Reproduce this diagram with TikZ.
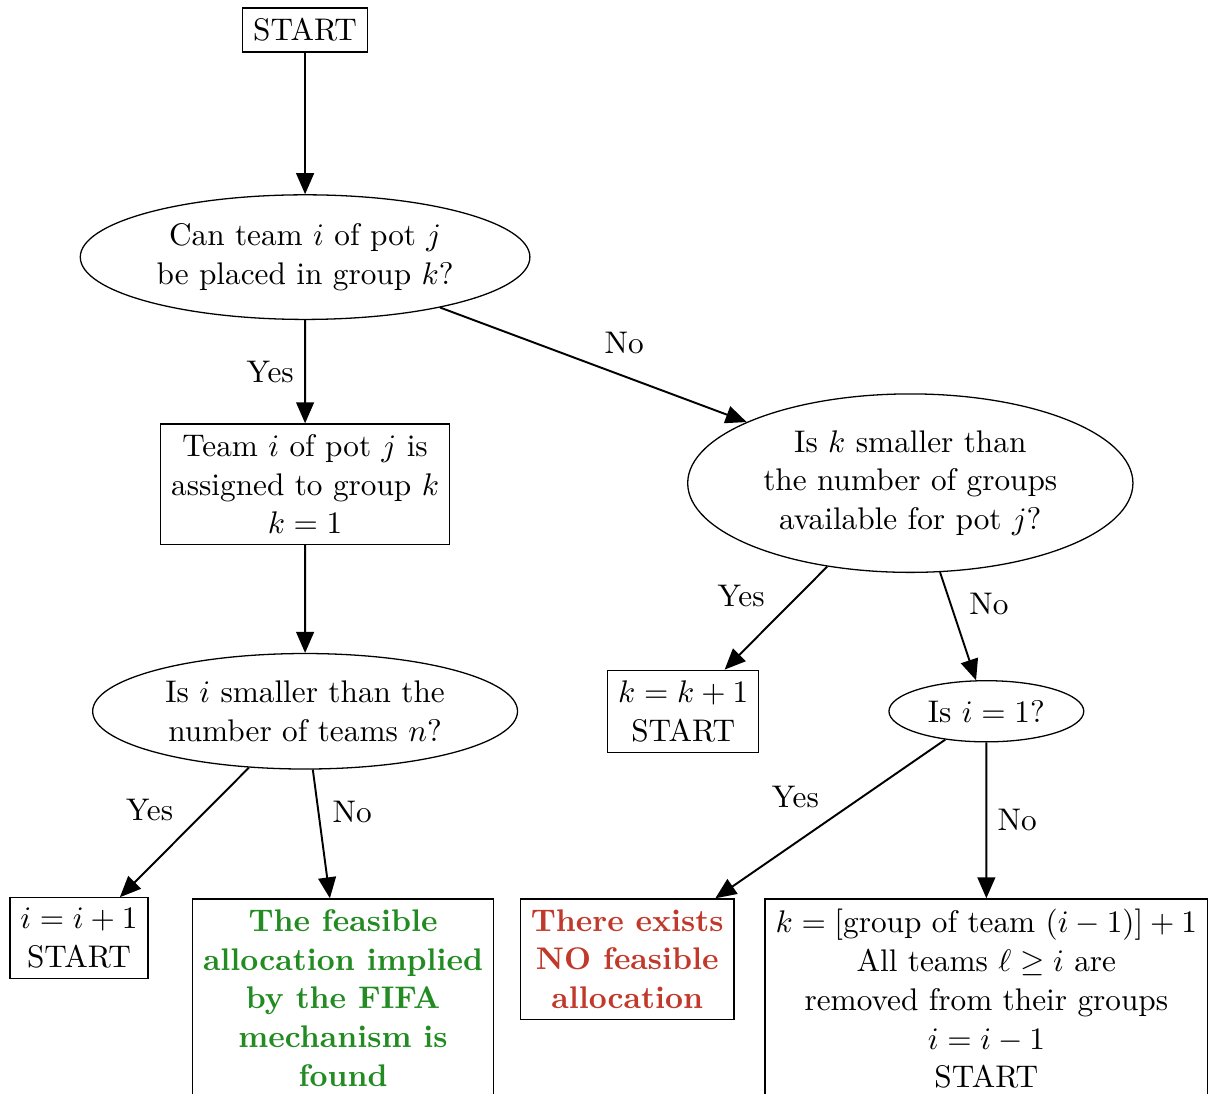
\documentclass[tikz,border=0pt]{standalone}
\usepackage{amsmath, amssymb}
\usepackage{xcolor}
\usetikzlibrary{shapes.geometric, arrows.meta}

\definecolor{feasgreen}{RGB}{34,139,34}
\definecolor{infred}{RGB}{192,57,43}
\newcommand{\chartfont}{\fontsize{10}{12.4}\selectfont}

\begin{document}
\begin{tikzpicture}[
    every node/.append style={scale=0.97, font=\chartfont},
    block/.style={draw, rectangle, align=center},
    decision/.style={draw, ellipse, align=center},
    outcome/.style={block, anchor=north, font=\chartfont\bfseries},
    arrow/.style={semithick, -{Triangle[width=5.5pt,length=6.5pt]}}
  ]
  \useasboundingbox (0,0) rectangle (13.18,-11.92);

  % left column
  \node[block] (start) at (3.326,-0.327) {START};
  \node[decision] (canplace) at (3.326,-2.803) {Can team $i$ of pot $j$\\ be placed in group $k$?};
  \node[block] (assign) at (3.326,-5.278) {Team $i$ of pot $j$ is\\ assigned to group $k$\\ $k=1$};
  \node[decision] (moreteams) at (3.326,-7.754) {Is $i$ smaller than the\\ number of teams $n$?};
  \node[block] (nextteam) at (0.861,-10.229) {$i=i+1$\\ START};
  \node[outcome, text=feasgreen] (found) at (3.740,-9.793)
    {The feasible\\ allocation implied\\ by the FIFA\\ mechanism is\\ found};

  % right column
  \node[decision] (moregroups) at (9.924,-5.267) {Is $k$ smaller than\\ the number of groups\\ available for pot $j$?};
  \node[block] (nextgroup) at (7.448,-7.754) {$k=k+1$\\ START};
  \node[decision] (firstteam) at (10.753,-7.754) {Is $i=1$?};
  \node[outcome, text=infred] (none) at (6.838,-9.793)
    {There exists\\ NO feasible\\ allocation};
  \node[block, anchor=north] (backtrack) at (10.753,-9.793)
    {$k=[\text{group of team } (i-1)]+1$\\ All teams $\ell \geq i$ are\\ removed from their groups\\ $i=i-1$\\ START};

  \draw[arrow] (start) -- (canplace);
  \draw[arrow] (canplace) -- node[left] {Yes} (assign);
  \draw[arrow] (canplace) -- node[above right] {No} (moregroups);
  \draw[arrow] (assign) -- (moreteams);
  \draw[arrow] (moreteams) -- node[above left] {Yes} (nextteam);
  \draw[arrow] (moreteams) -- node[above right] {No} (found);
  \draw[arrow] (moregroups) -- node[above left] {Yes} (nextgroup);
  \draw[arrow] (moregroups) -- node[above right] {No} (firstteam);
  \draw[arrow] (firstteam) -- node[above left] {Yes} (none);
  \draw[arrow] (firstteam) -- node[right] {No} (backtrack);
\end{tikzpicture}
\end{document}
